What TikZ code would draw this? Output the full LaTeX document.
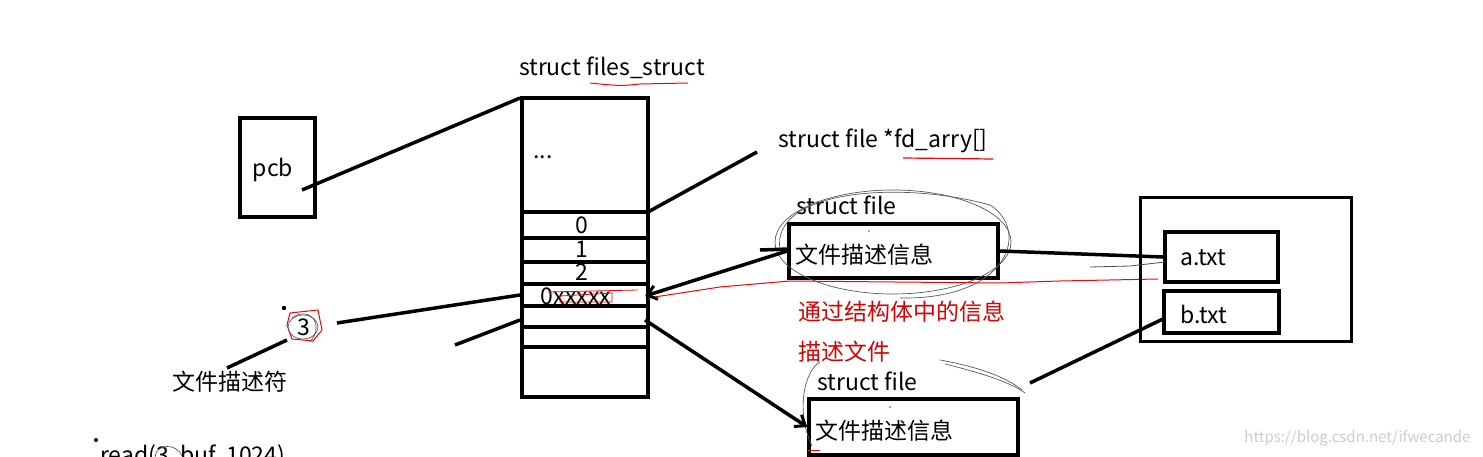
\documentclass[tikz,border=0pt]{standalone}
\usepackage{fontspec}
\setmainfont{Noto Sans CJK SC}
\usetikzlibrary{arrows.meta}
\begin{document}
\begin{tikzpicture}[x=1pt,y=-1pt,
  box/.style={draw,line width=3.5pt},
  link/.style={line width=3.5pt},
  lbl/.style={font=\fontsize{23}{27}\selectfont,inner sep=0pt},
  redlbl/.style={lbl,text=red!85!black},
  scrib/.style={draw=gray!70!black,line width=0.7pt},
  tip/.style={-{Straight Barb[length=9pt,width=14pt,line width=3pt]}}
]
\useasboundingbox (0,0) rectangle (1483,457);
\fill[white] (0,0) rectangle (1483,457);
\begin{scope}
\clip (0,0) rectangle (1483,457);
% pcb
\node[box,minimum width=75pt,minimum height=99pt,inner sep=0pt] (pcb) at (277.5,167.5) {};
\node[lbl] (pcbt) at (273,170) {pcb};
\coordinate (pcbp) at (302,190);
% table
\node[box,line width=4pt,minimum width=126pt,minimum height=299pt,inner sep=0pt] (tab) at (585,247.5) {};
\foreach \yy in {212,238,262,284,306,327,347}{\draw[line width=3.5pt] (522,\yy) -- (648,\yy);}
\node[lbl] (dots) at (543,157) {...};
\node[lbl] (r0) at (582,225) {0};
\node[lbl] (r1) at (582,249) {1};
\node[lbl] (r2) at (582,272) {2};
\node[lbl] (r3) at (576,296) {0xxxxx};
\draw[red,line width=0.8pt] (560,296) -- (612,293) -- (612,302) -- (560,302) -- cycle;
\draw[red,line width=0.8pt] (548,292) -- (638,290);
\coordinate (tabTL) at (520,98);
\coordinate (tab0R) at (648,212);
\coordinate (r3L) at (520,295);
\coordinate (r3R) at (645,296);
\coordinate (r4L) at (520,320);
\coordinate (r4R) at (645,320);
\node[lbl,anchor=south] (fst) at (612,79) {struct files\_struct};
\draw[red,line width=1pt] (590,83) .. controls (620,86) .. (640,84) -- (688,83);
\draw[link] (pcbp) -- (tabTL);
% fd_arry label
\node[lbl,anchor=west] (fda) at (778,141) {struct file *fd\_arry[]};
\draw[red,line width=1.2pt] (903,158) -- (993,159);
\coordinate (fdaE) at (757,152);
\draw[link] (tab0R) -- (fdaE);
% descriptor 3
\node[lbl] (three) at (304,327) {3};
\draw[red,line width=1pt] (290,313) -- (318,310) -- (322,330) -- (313,341) -- (292,339) -- (287,325) -- cycle;
\draw[scrib] (303,327) ellipse (15 and 12);
\draw[scrib] (292,318) .. controls (310,305) and (325,325) .. (310,342);
\fill (284,308) circle (2.2);
\coordinate (threeR) at (337,323);
\draw[link] (threeR) -- (r3L);
\coordinate (freeL) at (455,345);
\draw[link] (freeL) -- (r4L);
\node[lbl,anchor=north west] (wjms) at (172,371) {文件描述符};
\coordinate (wjmsT) at (227,368);
\coordinate (threeB) at (287,340);
\draw[link] (wjmsT) -- (threeB);
% read call
\fill (96,440) circle (2);
\node[lbl,anchor=north west] (rd) at (100,444) {read(3, buf, 1024)};
\draw[scrib] (155,458) .. controls (155,444) and (176,442) .. (182,456);
% upper struct file
\node[box,minimum width=209pt,minimum height=54pt,inner sep=0pt] (f1) at (893.5,251) {};
\node[lbl,anchor=west] (f1t) at (795,255) {文件描述信息};
\node[lbl,anchor=west] (f1l) at (796,205) {struct file};
\draw[scrib] (893,242) ellipse (118 and 52);
\draw[scrib] (780,250) .. controls (770,190) and (900,180) .. (990,205) .. controls (1030,230) and (1010,300) .. (900,298);
\fill[red] (869,231) circle (0.8);
% red annotation
\node[redlbl,anchor=west] (red1) at (798,312) {通过结构体中的信息};
\node[redlbl,anchor=west] (red2) at (798,352) {描述文件};
\draw[red,line width=1pt] (648,298) -- (720,287) -- (790,281) -- (1000,283) -- (1060,281) -- (1158,279);
% lower struct file
\node[box,minimum width=209pt,minimum height=56pt,inner sep=0pt] (f2) at (913.5,427) {};
\node[lbl,anchor=west] (f2t) at (815,431) {文件描述信息};
\node[lbl,anchor=west] (f2l) at (817,381) {struct file};
\draw[scrib] (812,446) .. controls (795,410) and (805,370) .. (820,362);
\draw[scrib] (945,364) .. controls (990,375) and (1015,385) .. (1025,393);
\draw[scrib] (940,360) .. controls (985,368) and (1010,380) .. (1022,390);
\fill[red] (890,407) circle (0.8);
\draw[red,line width=1pt] (808,450) -- (820,450);
% files box
\node[box,line width=3pt,minimum width=211pt,minimum height=143pt,inner sep=0pt] (disk) at (1245.5,269.5) {};
\node[box,minimum width=113pt,minimum height=50pt,inner sep=0pt] (atxt) at (1221.5,257) {};
\node[lbl,anchor=west] (at) at (1180,258) {a.txt};
\node[box,minimum width=115pt,minimum height=42pt,inner sep=0pt] (btxt) at (1221.5,312) {};
\node[lbl,anchor=west] (bt) at (1180,314) {b.txt};
\draw[link] (f1.east) -- (atxt.west);
\draw[gray!60!black,line width=0.8pt] (1090,267) -- (1130,266) -- (1165,262);
\coordinate (f2N) at (1030,383);
\draw[link] (f2N) -- (1165,318);
% arrows from struct file to table
\draw[link,tip] (f1.west) -- (r3R);
\draw[link] (760,250) -- (789,249);
\draw[link,tip] (r4R) -- (f2.west);
% watermark
\node[font=\fontsize{15}{18}\selectfont,text=gray!40,anchor=east] (wm) at (1474,438) {https://blog.csdn.net/ifwecande};
\end{scope}
\end{tikzpicture}
\end{document}
